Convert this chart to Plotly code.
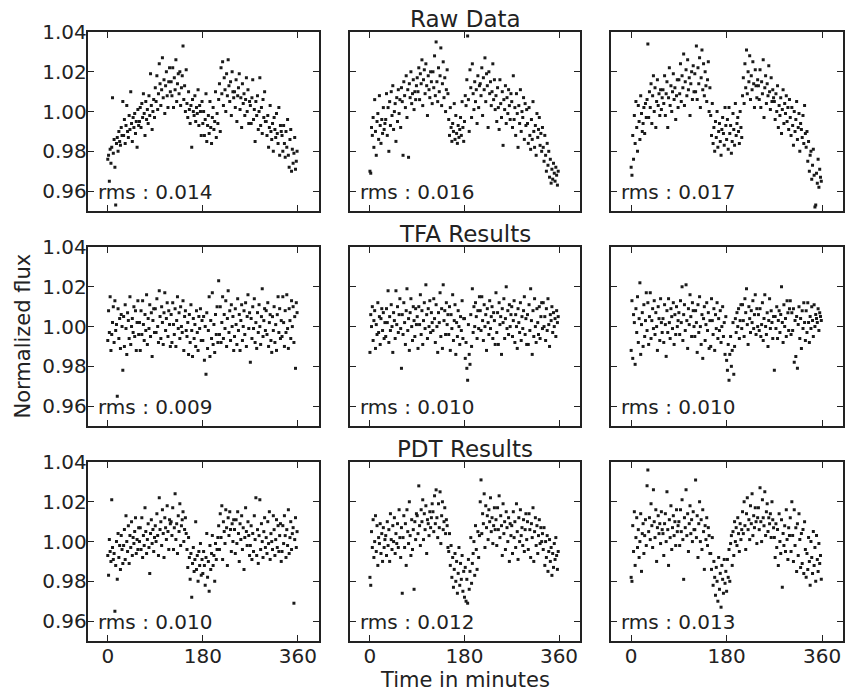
import plotly.graph_objects as go

# Observation times (minutes), regular 1.5-minute cadence
TIME_MIN = [i * 1.5 for i in range(240)]

# Flux deviations, in parts per thousand (flux = 1 + ppt/1000)
raw_left_ppt = [
    -24, -22, -35, -19, -26, -18, 7, -21, -14, -28, -47, -16, -13, -20, -10, -15, -17, -8, -12, 5,
    -12, -4, -16, -7, 3, -10, -13, -2, -9, 10, -6, -15, -3, -8, -1, -11, -5, -18, 1, -7,
    -5, 2, -8, 4, -3, 9, -1, -12, 5, -4, 1, -6, 8, -2, 19, 3, -9, 0, 6, -3,
    12, 5, 18, 1, 9, 24, 14, 3, 11, 27, 7, 16, -1, 13, 20, 8, 2, 15, 22, 10,
    15, 8, 22, 2, 17, 11, 26, 5, 14, 19, 9, 20, 3, 12, 18, 33, 6, 13, 0, 21,
    4, -3, 10, 1, -6, 3, -18, 6, 0, -2, 8, -5, 2, -1, 11, -7, 3, 0, -12, 5,
    -6, 0, -12, -4, 9, -15, -7, -2, -11, 5, -8, -16, -3, 2, -9, -5, 10, -13, -1, -6,
    6, 14, -10, 22, 9, 25, 3, 17, 11, 0, 19, 8, 26, 13, 5, 15, -2, 20, 10, 7,
    10, 2, 16, -5, 8, 12, 19, 1, 7, -8, 14, 4, 9, -2, 6, 17, 0, 11, -6, 5,
    3, -6, 7, 16, -4, 1, -15, 5, -2, 8, -9, 0, 17, -7, 2, -11, 6, -3, 10, -5,
    -5, -12, -2, -18, -8, 3, -10, -14, -6, -20, -3, -9, -13, -1, -11, -16, 2, -22, -7, -10,
    -12, -20, -7, -16, -23, -10, -18, -4, -22, -28, -14, -9, -30, -19, -26, -21, -13, -29, -25, -20,
]
raw_mid_ppt = [
    -30, -31, -8, -12, -3, -18, 6, -10, -22, -5, -1, -14, 8, -7, -16, -4, -11, 2, -9, -6,
    -4, 9, -12, 2, -20, 5, -7, 10, -2, 13, -9, 0, 4, -15, 7, -5, 11, -1, 6, -8,
    12, 5, -22, 15, 8, 2, 18, -3, 11, -23, 14, 7, 20, 4, 9, 16, 1, 10, 6, 13,
    17, 10, 22, 6, 19, 14, 26, 3, 16, 21, 9, 24, 13, -2, 18, 11, 7, 20, 15, 4,
    20, 12, 28, 8, 35, 15, 5, 22, 10, 18, 32, 3, 14, 25, 7, 17, 0, 11, 21, 9,
    -4, -12, 2, -8, -15, -6, -10, 4, -14, -2, -11, -16, -7, -13, -9, -3, -12, 5, -8, -15,
    -5, 8, 3, 16, 38, 6, -10, 21, 12, -3, 24, 9, 1, 15, 5, 11, -6, 18, 2, 13,
    14, 8, 22, -2, 17, 11, 27, 5, 19, 13, -8, 20, 9, 15, 3, 10, 24, 6, 16, 1,
    8, -5, 12, 2, -9, 16, 4, -3, 10, -17, 6, 1, 13, -6, 7, -1, 11, 3, -4, 9,
    5, -8, 18, -4, 2, -12, 9, -1, -18, 3, -6, 11, -10, 0, -3, 7, -14, 4, -7, 1,
    -6, -16, 2, -12, -19, -4, -14, 5, -10, -18, -7, -22, -1, -13, -9, -3, -17, -11, -20, -8,
    -18, -25, -12, -22, -30, -16, -27, -20, -33, -24, -36, -29, -34, -26, -31, -35, -28, -32, -37, -30,
]
raw_right_ppt = [
    -28, -32, -12, -24, -2, -16, 5, -8, -20, 3, -5, -14, 8, -1, -10, -6, 2, -11, 4, -3,
    6, 34, -3, 10, 2, 14, -6, 8, 18, 0, 12, -8, 5, 16, 3, 9, -2, 11, 1, 7,
    11, 4, 18, -2, 9, 15, -8, 7, 22, 3, 13, 0, 10, 19, 6, 12, -4, 8, 16, 2,
    16, 9, 24, 5, 18, 12, 29, 3, 15, 21, 8, 26, 11, 17, -2, 14, 20, 6, 23, 10,
    19, 10, 33, 6, 22, 14, 27, 2, 17, 31, 11, 24, 8, 20, 13, 5, 16, 25, 0, 12,
    -2, -12, 4, -16, -8, -20, -5, -13, 0, -18, -10, -6, -15, -22, -9, -3, -11, -17, 2, -7,
    -14, -4, -19, 2, -11, -7, -21, -15, -1, -9, -17, 4, -12, -6, -3, -10, -16, 0, -8, -13,
    8, 17, 4, 24, 12, 31, 9, 20, 15, 28, 6, 18, 11, 25, 14, 2, 21, 13, 7, 16,
    13, 6, 21, 2, 15, 9, 26, -3, 12, 18, 4, 14, 8, 23, 10, 1, 17, 5, 11, 7,
    5, -4, 9, 0, 13, -8, 3, -2, 7, -11, 1, 11, -6, 4, -1, 8, -5, 2, -9, 6,
    -3, -12, 2, -7, -17, 0, -10, -4, 5, -14, -8, -1, -20, -6, -9, -13, -2, -16, 3, -11,
    -18, -10, -25, -15, -30, -22, -20, -34, -27, -19, -32, -48, -47, -31, -36, -24, -38, -29, -33, -35,
]
tfa_left_ppt = [
    -7, 8, -3, 15, -12, -4, 2, 10, -8, 13, -2, 1, -35, 9, -6, 4, -11, 6, 0, -22,
    5, -10, 11, -1, -14, 7, 3, -6, 15, -9, 0, 4, -3, 10, -5, 8, -12, 2, 13, -4,
    2, -12, 8, -4, 13, 1, -7, 6, -2, 16, -9, 4, -1, 11, -5, 7, -15, 3, 9, -3,
    9, -3, 14, 0, -8, 18, 5, -6, 10, 2, -9, 7, 17, -2, 4, 12, -5, 8, 1, -10,
    6, -8, 12, 1, -4, 9, -10, 3, 15, -1, 7, -6, 10, 0, -3, 13, -12, 5, 8, -2,
    -5, 2, -14, 6, -8, 11, -2, -15, 4, -6, 1, -10, 8, -3, -12, 5, -1, 9, -7, 3,
    -7, 5, -17, 0, -24, 7, -11, -2, 15, -15, 3, -6, 17, -9, 1, -13, 6, -4, 10, -8,
    23, -4, 10, -8, 2, 15, -6, 6, -1, 13, -10, 4, 18, -3, 8, -7, 11, 0, 5, -12,
    -5, 9, 1, -9, 14, -2, 6, -12, 3, 11, -7, 0, 8, -4, 12, -10, 5, 16, -1, 7,
    -18, 4, -6, 10, -1, 14, -8, 2, -11, 7, -3, 11, 0, -9, 5, 19, -5, 3, 9, -2,
    8, -4, 12, -10, 2, 6, -7, -13, 5, -2, 10, -8, 1, -12, 6, 15, -3, 9, -6, 3,
    -5, 15, 2, -10, 8, -3, 16, -1, -11, 9, 3, -6, 13, 0, 10, -8, 5, -21, 12, 7,
]
tfa_mid_ppt = [
    -13, 6, 0, 10, -7, 3, 8, -11, 1, -4, 12, -3, 5, -9, 4, 9, -2, 7, -6, 2,
    -5, 9, 2, 18, -8, 5, -2, 11, 0, -13, 7, 3, -6, 18, 1, 10, -3, 6, 14, -1,
    -21, 6, -4, 12, 2, -9, 8, 19, -2, 4, -12, 7, 14, 0, -7, 10, 3, -5, 9, 1,
    5, -11, 10, 1, 16, -4, 8, -9, 3, 12, -1, 21, 6, -6, 9, 0, 13, -3, 7, 2,
    -2, 14, 4, -8, 11, 0, -13, 7, 2, 17, -5, 9, -11, 21, 3, 8, -4, 12, 1, 6,
    -4, 10, -12, 6, -1, 16, -7, 3, 11, -14, 2, -5, 8, 0, -9, 5, -2, 13, -6, 4,
    4, -16, -8, -21, -27, 1, -14, -19, 6, -10, 19, -3, 10, 0, 12, 5, -6, 8, -1, 15,
    8, -2, 15, 3, -7, 11, 0, 6, -12, 9, 2, -4, 13, -1, 5, 10, -6, 7, 3, -9,
    17, -3, 7, -9, 12, 1, 5, -14, 9, 2, 14, -6, 4, 20, -1, 8, -4, 11, 0, 6,
    10, -5, 3, 13, -8, 6, 0, -11, 9, 2, -3, 12, -7, 5, -1, 8, 15, -4, 4, -9,
    6, -9, 11, -2, 19, 3, -14, 8, -5, 14, 0, -8, 9, 2, -4, 10, -6, 5, 12, -1,
    12, 0, 5, -7, 9, -2, 14, 1, -10, 6, 3, 10, -3, 7, 0, 4, -5, 8, 2, 5,
]
tfa_right_ppt = [
    -12, 13, -16, 6, 2, -19, 9, -3, 15, -8, 4, 22, -14, 1, 7, -10, 11, -5, 3, 17,
    -2, 12, -9, 5, 17, -6, 3, 9, -1, 13, -4, 7, 0, -12, 10, 4, -7, 14, 2, -3,
    4, -8, 11, 1, -15, 8, -3, 14, 2, -6, 9, 5, -1, 12, -9, 6, -4, 10, 0, 3,
    7, -4, 13, 2, 20, -7, 6, 11, -2, 21, 3, -11, 9, 1, 16, 5, -5, 12, 8, 0,
    -5, 8, 2, -13, 11, -3, 15, 0, -9, 6, -16, 4, 10, -7, 1, 12, -2, 7, -11, 3,
    -10, 14, 3, -4, 9, -12, 6, -1, 12, -6, 4, -2, 8, -8, 0, 10, -5, 2, -14, 5,
    -17, -22, -9, -27, -14, -5, -20, -12, 2, -24, -10, 4, -3, 7, 0, 9, -6, 3, 11, -1,
    11, 3, -5, 14, 7, 19, 1, -9, 10, 4, -3, 8, 2, 13, -1, 6, 16, -4, 9, 0,
    6, -2, 9, -5, 1, 12, -7, 4, 16, 0, -4, 7, -10, 3, 14, -1, 8, 2, -6, 5,
    -22, 5, -1, 10, -6, 3, 8, -3, 6, 20, 2, -8, 11, 0, 4, -5, 13, 7, -2, 9,
    13, -4, 7, -2, 9, -18, 3, -15, 5, -21, 1, 10, -6, 4, -11, 8, -1, 12, 2, -7,
    8, -3, 12, 2, -8, 5, -1, 10, 3, -5, 11, 0, 6, 4, 2, 9, -2, 7, 5, 3,
]
pdt_left_ppt = [
    -7, -17, 1, -5, -10, 21, -3, -9, -6, -35, -12, 0, -19, 4, -8, -2, -14, 3, -4, -11,
    -2, 6, -9, 13, 0, -5, 8, -11, 3, -3, 10, -7, 2, -1, 5, 12, -6, 1, -4, 7,
    0, 7, -4, 12, -8, 3, -2, 17, 5, -6, 1, 9, -3, -16, 4, 11, -1, 6, -5, 2,
    8, 0, 14, 3, -7, 22, 6, 10, -2, 16, 4, -8, 12, 7, 1, 18, 5, -4, 11, 9,
    10, 3, 17, -4, 7, 24, 1, 9, -6, 13, 5, 19, -2, 8, 11, 15, 0, 6, 12, 4,
    -4, -13, 2, -8, -19, -6, -28, -11, -3, -15, -9, 10, -14, -7, -20, -5, -12, -1, -17, -9,
    -16, -5, -12, -22, -8, 4, -18, -10, -25, -2, -14, -6, 3, -12, -7, -20, -1, -9, -4, 2,
    8, -4, 14, 2, 18, -9, 10, 5, -1, 16, 7, -12, 12, 3, 15, 6, -5, 9, 0, 11,
    6, -6, 11, -1, 15, 4, -10, 9, 1, 13, -4, 7, -14, 2, 17, 5, -2, 10, 3, -7,
    -2, 8, -9, 4, -5, 13, 1, 22, -7, 6, -11, 3, 21, -4, 9, 0, -8, 5, 12, -3,
    2, -6, 10, -1, 15, -9, 4, 0, -4, 13, 6, -7, 1, 11, -3, 8, -5, 3, 9, -10,
    -5, 8, -1, 13, 3, -8, 6, -2, 16, -6, 2, 10, -4, 4, 7, -31, 1, 12, -3, 5,
]
pdt_mid_ppt = [
    -18, -22, 5, -3, 11, -8, 0, 13, -5, 8, -12, 2, -1, 9, -6, 4, -10, 7, -3, 1,
    3, -7, 10, -2, 6, -10, 14, 1, -4, 8, 0, 12, -6, 4, -1, 9, -3, 16, 2, -8,
    7, -26, 2, 13, -3, 9, -12, 16, 5, -1, 20, 3, -7, 11, -4, 6, -24, 10, 1, 14,
    13, 4, 28, 8, -2, 16, 10, 21, 1, 14, 6, 18, -6, 11, 9, 3, 15, 7, 12, 19,
    15, 5, 23, 9, 26, 12, 2, 19, 7, 25, -1, 13, 20, 6, 10, 17, 4, 11, 8, -3,
    -5, 4, -12, -2, -18, -8, -23, -14, -6, -20, -10, -26, -16, -3, -22, -11, -19, -7, -25, -15,
    -28, -13, -30, -19, -31, -9, -24, -15, 2, -21, -11, -6, 0, -17, 8, -4, -14, 5, -8, 3,
    20, 31, 4, 14, 9, 24, -3, 18, 7, 13, 1, 16, 10, 22, 5, 12, -1, 8, 17, 6,
    11, -2, 17, 6, 23, 2, 13, 8, -7, 19, 4, 10, -4, 15, 7, 0, 12, -10, 9, 3,
    8, -6, 15, 2, 10, -3, 19, 5, -9, 12, 0, 16, 3, 7, -2, 11, -5, 6, 14, 1,
    10, -4, 14, 6, -8, 9, 2, 17, -10, 5, 12, -2, 8, -6, 3, 11, -1, 7, 0, 4,
    -4, 7, -12, 0, -8, 3, -15, -5, 1, -10, -3, -17, -6, -13, -1, -9, 2, -7, -14, -5,
]
pdt_right_ppt = [
    -18, -20, 8, -5, 15, -12, 2, 12, -3, 6, -8, 0, 14, -15, 4, 9, -6, 3, 11, -2,
    28, 36, 5, 12, 1, 19, 8, -3, 26, 10, 2, 16, -10, 7, 13, 4, 9, -1, 15, 6,
    4, -7, 9, 14, 0, 25, 6, -12, 11, 2, 18, -4, 7, 13, 3, 10, -2, 16, 5, 8,
    10, -2, 16, 5, 21, 1, -19, 12, 7, 26, 3, 14, -5, 9, 18, 4, 11, 0, 15, 6,
    6, 31, 2, 13, -8, 9, 20, 0, 11, -4, 16, 5, -14, 8, 1, 12, -2, 7, 3, -6,
    -6, -14, 2, -22, -10, -18, -27, -13, -20, -30, -8, -24, -16, -33, -12, -19, -26, -9, -21, -15,
    -25, -9, -18, -4, -20, -1, 3, -12, 5, -7, 10, 0, 7, -2, 12, 4, -5, 9, 1, 6,
    15, 4, 20, 8, -4, 14, 22, 6, 11, 1, 18, 9, 24, 3, 13, 7, 17, 10, -1, 12,
    17, 6, 27, 10, 0, 21, 12, 8, 25, 3, 15, 19, 5, 12, 9, 14, 2, 20, 11, 7,
    2, -8, 9, -3, 6, -12, 14, 0, -6, 11, -23, 4, -2, 8, -5, 16, 1, -9, 7, 3,
    12, -5, 20, 3, -10, 16, -2, 7, -15, 9, -7, 14, 1, -13, 4, -11, 6, -16, 10, -4,
    -18, -6, -14, 2, -10, -22, 0, -8, -16, 5, -12, -3, -20, 3, -9, -15, -1, -11, -7, -19,
]

RMS_LABELS = ["0.014", "0.016", "0.017",
              "0.009", "0.010", "0.010",
              "0.010", "0.012", "0.013"]
ROW_TITLES = ["Raw Data", "TFA Results", "PDT Results"]
X_TICKS = [0, 180, 360]
Y_TICKS = [0.96, 0.98, 1.00, 1.02, 1.04]
X_TITLE = "Time in minutes"
Y_TITLE = "Normalized flux"

SERIES = [raw_left_ppt, raw_mid_ppt, raw_right_ppt,
          tfa_left_ppt, tfa_mid_ppt, tfa_right_ppt,
          pdt_left_ppt, pdt_mid_ppt, pdt_right_ppt]

W, H = 845, 692
COL_PX = [(87.7, 319.0), (350.0, 580.0), (611.0, 843.3)]
ROW_PX = [(32.0, 211.0), (247.0, 426.0), (462.0, 641.0)]
FONT = "DejaVu Sans"
INK = "#222222"

fig = go.Figure()
layout = dict(
    width=W, height=H, margin=dict(l=0, r=0, t=0, b=0, autoexpand=False),
    paper_bgcolor="white", plot_bgcolor="white", showlegend=False,
    font=dict(family=FONT, color=INK),
)
annotations = []

for i, ppt in enumerate(SERIES):
    r, c = divmod(i, 3)
    sfx = "" if i == 0 else str(i + 1)
    flux = [1 + v / 1000.0 for v in ppt]
    fig.add_trace(go.Scatter(
        x=TIME_MIN[:len(flux)], y=flux, mode="markers",
        marker=dict(symbol="square", size=3, color="#1a1a1a", line=dict(width=0)),
        xaxis="x" + sfx, yaxis="y" + sfx, hoverinfo="skip",
    ))
    x0, x1 = COL_PX[c]
    y0, y1 = ROW_PX[r]
    common = dict(
        showline=True, linecolor=INK, linewidth=2, mirror="ticks",
        ticks="inside", ticklen=6, tickwidth=1, tickcolor=INK,
        showgrid=False, zeroline=False,
        tickfont=dict(family=FONT, size=20, color=INK),
    )
    layout["xaxis" + sfx] = dict(
        common, domain=[x0 / W, x1 / W], anchor="y" + sfx,
        range=[-38, 400], tickvals=X_TICKS,
        ticktext=[str(v) for v in X_TICKS],
        showticklabels=(r == 2), ticklabelstandoff=-4,
    )
    layout["yaxis" + sfx] = dict(
        common, domain=[1 - y1 / H, 1 - y0 / H], anchor="x" + sfx,
        range=[0.95, 1.04], tickvals=Y_TICKS,
        ticktext=["%.2f" % v for v in Y_TICKS],
        showticklabels=(c == 0), ticklabelstandoff=-5,
    )
    annotations.append(dict(
        text="rms : " + RMS_LABELS[i], showarrow=False,
        xref="x" + sfx + " domain", yref="y" + sfx + " domain",
        x=0.035, y=0.105, xanchor="left", yanchor="middle",
        font=dict(family=FONT, size=20, color=INK),
    ))

for r, title in enumerate(ROW_TITLES):
    x0, x1 = COL_PX[1]
    annotations.append(dict(
        text=title, showarrow=False, xref="paper", yref="paper",
        x=(x0 + x1) / 2 / W, y=1 - ROW_PX[r][0] / H,
        xanchor="center", yanchor="bottom", yshift=-2,
        font=dict(family=FONT, size=23, color=INK),
    ))

annotations.append(dict(
    text=X_TITLE, showarrow=False, xref="paper", yref="paper",
    x=(COL_PX[1][0] + COL_PX[1][1]) / 2 / W, y=0,
    xanchor="center", yanchor="bottom", yshift=-2,
    font=dict(family=FONT, size=21, color=INK),
))
annotations.append(dict(
    text=Y_TITLE, showarrow=False, xref="paper", yref="paper",
    x=22 / W, y=1 - (ROW_PX[0][0] + ROW_PX[2][1]) / 2 / H,
    xanchor="center", yanchor="middle", textangle=-90,
    font=dict(family=FONT, size=21, color=INK),
))
layout["annotations"] = annotations
fig.update_layout(**layout)
fig.write_html("out.html")
